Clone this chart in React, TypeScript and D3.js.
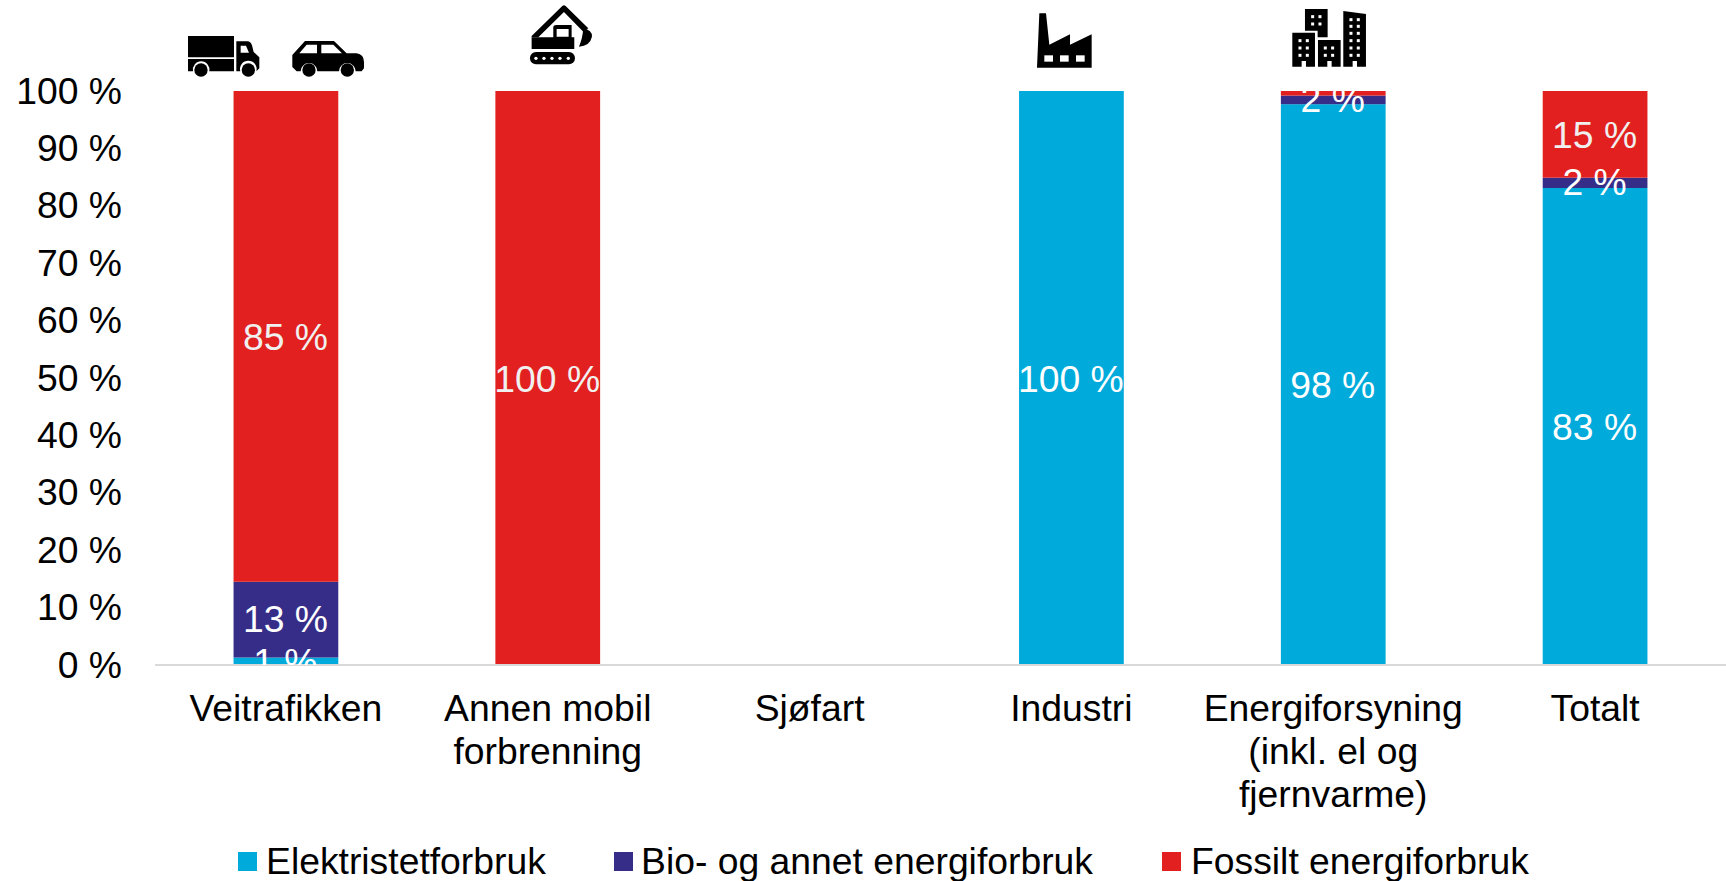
import React from "react";
import * as d3 from "d3";

const categories = ["Veitrafikken", "Annen mobil forbrenning", "Sjøfart", "Industri", "Energiforsyning (inkl. el og fjernvarme)", "Totalt"];
const categoryLines = [["Veitrafikken"], ["Annen mobil", "forbrenning"], ["Sjøfart"], ["Industri"], ["Energiforsyning", "(inkl. el og", "fjernvarme)"], ["Totalt"]];
const electricity = [1.3, 0, 0, 100, 97.7, 83.1];
const bio = [13.2, 0, 0, 0, 1.5, 1.8];
const fossil = [85.5, 100, 0, 0, 0.8, 15.1];
const electricityLabels = ["1 %", "", "", "100 %", "98 %", "83 %"];
const bioLabels = ["13 %", "", "", "", "2 %", "2 %"];
const fossilLabels = ["85 %", "100 %", "", "", "", "15 %"];
const yTicks = [0, 10, 20, 30, 40, 50, 60, 70, 80, 90, 100];
const seriesNames = ["Elektristetforbruk", "Bio- og annet energiforbruk", "Fossilt energiforbruk"];
const seriesColors = ["#00ABDC", "#362D89", "#E1201F"];
const labelColors = ["#FFFFFF", "#FFFFFF", "#F0F0F0"];

const FONT = "'Liberation Sans', Arial, sans-serif";
const FS = 37.3;
const labelNudge = [0.5, -1, 1];

const x = d3.scaleBand<string>().domain(categories).range([155, 1726]).paddingInner(0.6).paddingOuter(0.3);
const y = d3.scaleLinear().domain([0, 100]).range([665, 91]);

const rows = categories.map((c, i) => ({ c, e: electricity[i], b: bio[i], f: fossil[i] }));
const stacked = d3.stack<any>().keys(["e", "b", "f"])(rows);
const allLabels = [electricityLabels, bioLabels, fossilLabels];

function Dots({ xs, ys, r = 4.5 }: { xs: number[]; ys: number[]; r?: number }) {
  return <>{ys.flatMap((yy) => xs.map((xx) => <rect key={xx + "-" + yy} x={xx - r} y={yy - r} width={2 * r} height={2 * r} fill="#fff" />))}</>;
}

function Icons() {
  return (
    <g>
      <g transform="translate(160,0) scale(0.3333)" fill="#000">
        <path d="M84 108H222V172H84Z" />
        <path d="M84 177H222V214H148A25 25 0 1 0 99 214H84Z" />
        <circle cx="123" cy="210" r="20" />
        <path fillRule="evenodd" d="M229 124H262Q272 124 276 136L281 156L298 172V205L289 214A25 25 0 1 0 241 214H229ZM242 137H258L267 158H242Z" />
        <circle cx="265" cy="210" r="20" />
        <path fillRule="evenodd" d="M435 123H522L560 160H590Q612 164 612 185V205L605 214H587A25 25 0 1 0 537 214H472A25 25 0 1 0 422 214H410L397 201V165ZM418 160H471V134H440ZM484 134V160H546L520 134Z" />
        <circle cx="447" cy="210" r="20" />
        <circle cx="562" cy="210" r="20" />
        <path d="M1115 108L1207 18Q1212 14 1217 18L1285 85L1270 95L1212 36L1135 112H1115Z" />
        <path fillRule="evenodd" d="M1115 112H1180V82Q1180 75 1190 75H1235V112H1243V147H1115ZM1190 87V110H1226V87Z" />
        <path d="M1270 85Q1297 90 1296 110Q1290 138 1257 140Q1268 115 1270 85Z" />
        <rect x="1110" y="156" width="135" height="37" rx="18" />
        {[1128, 1152, 1176, 1200, 1225].map((cx) => <circle key={cx} cx={cx} cy="175" r="5" fill="#fff" />)}
      </g>
      <g transform="translate(1010,0) scale(0.3333)" fill="#000">
        <path d="M81 203L88 40H108L118 134L180 103V134L245 103V203Z" />
        {[103, 150, 198].map((wx) => <rect key={wx} x={wx} y="166" width="26" height="19" fill="#fff" />)}
        <path d="M847 98H915V200H888V183H875V200H847Z" />
        <path d="M885 27H953V112H923V92H885Z" />
        <path d="M924 120H992V200H965V183H952V200H924Z" />
        <path d="M1000 33L1068 42V200H1041V183H1028V200H1000Z" />
        <Dots xs={[870, 892]} ys={[122, 144, 166]} />
        <Dots xs={[908, 930]} ys={[50, 72]} />
        <Dots xs={[946, 968]} ys={[144, 166]} />
        <Dots xs={[1023, 1045]} ys={[59, 79, 100, 122, 144, 166]} />
      </g>
    </g>
  );
}

export default function App() {
  const legendX = [[238, 266], [614, 641], [1162, 1191]];
  return (
    <svg width={1726} height={881} viewBox="0 0 1726 881" style={{ position: "absolute", left: 0, top: 0, display: "block", background: "#fff" }} fontFamily={FONT} fontSize={FS}>
      <defs>
        <clipPath id="plot"><rect x={155} y={91} width={1571} height={574} /></clipPath>
      </defs>
      <Icons />
      {yTicks.map((t) => (
        <text key={t} x={122} y={y(t) - 0.5} dy="0.35em" textAnchor="end" fill="#000">{t} %</text>
      ))}
      {stacked.map((s, si) => (
        <g key={si} fill={seriesColors[si]}>
          {s.map((d, i) => (
            <rect key={i} x={x(categories[i])} width={x.bandwidth()} y={y(d[1])} height={y(d[0]) - y(d[1])} />
          ))}
        </g>
      ))}
      <line x1={155} x2={1726} y1={665} y2={665} stroke="#D9D9D9" strokeWidth={2} />
      <g clipPath="url(#plot)" textAnchor="middle">
        {stacked.map((s, si) =>
          s.map((d, i) =>
            allLabels[si][i] ? (
              <text key={si + "-" + i} x={x(categories[i])! + x.bandwidth() / 2 - 0.5} y={y((d[0] + d[1]) / 2) + labelNudge[si]} dy="0.35em" fill={labelColors[si]}>
                {allLabels[si][i]}
              </text>
            ) : null
          )
        )}
      </g>
      <g textAnchor="middle" fill="#000">
        {categoryLines.map((lines, i) => (
          <text key={i}>
            {lines.map((l, j) => <tspan key={j} x={x(categories[i])! + x.bandwidth() / 2} y={721 + j * 43}>{l}</tspan>)}
          </text>
        ))}
      </g>
      {seriesNames.map((n, i) => (
        <g key={n}>
          <rect x={legendX[i][0]} y={852} width={19} height={19} fill={seriesColors[i]} />
          <text x={legendX[i][1]} y={874} fill="#000">{n}</text>
        </g>
      ))}
    </svg>
  );
}
